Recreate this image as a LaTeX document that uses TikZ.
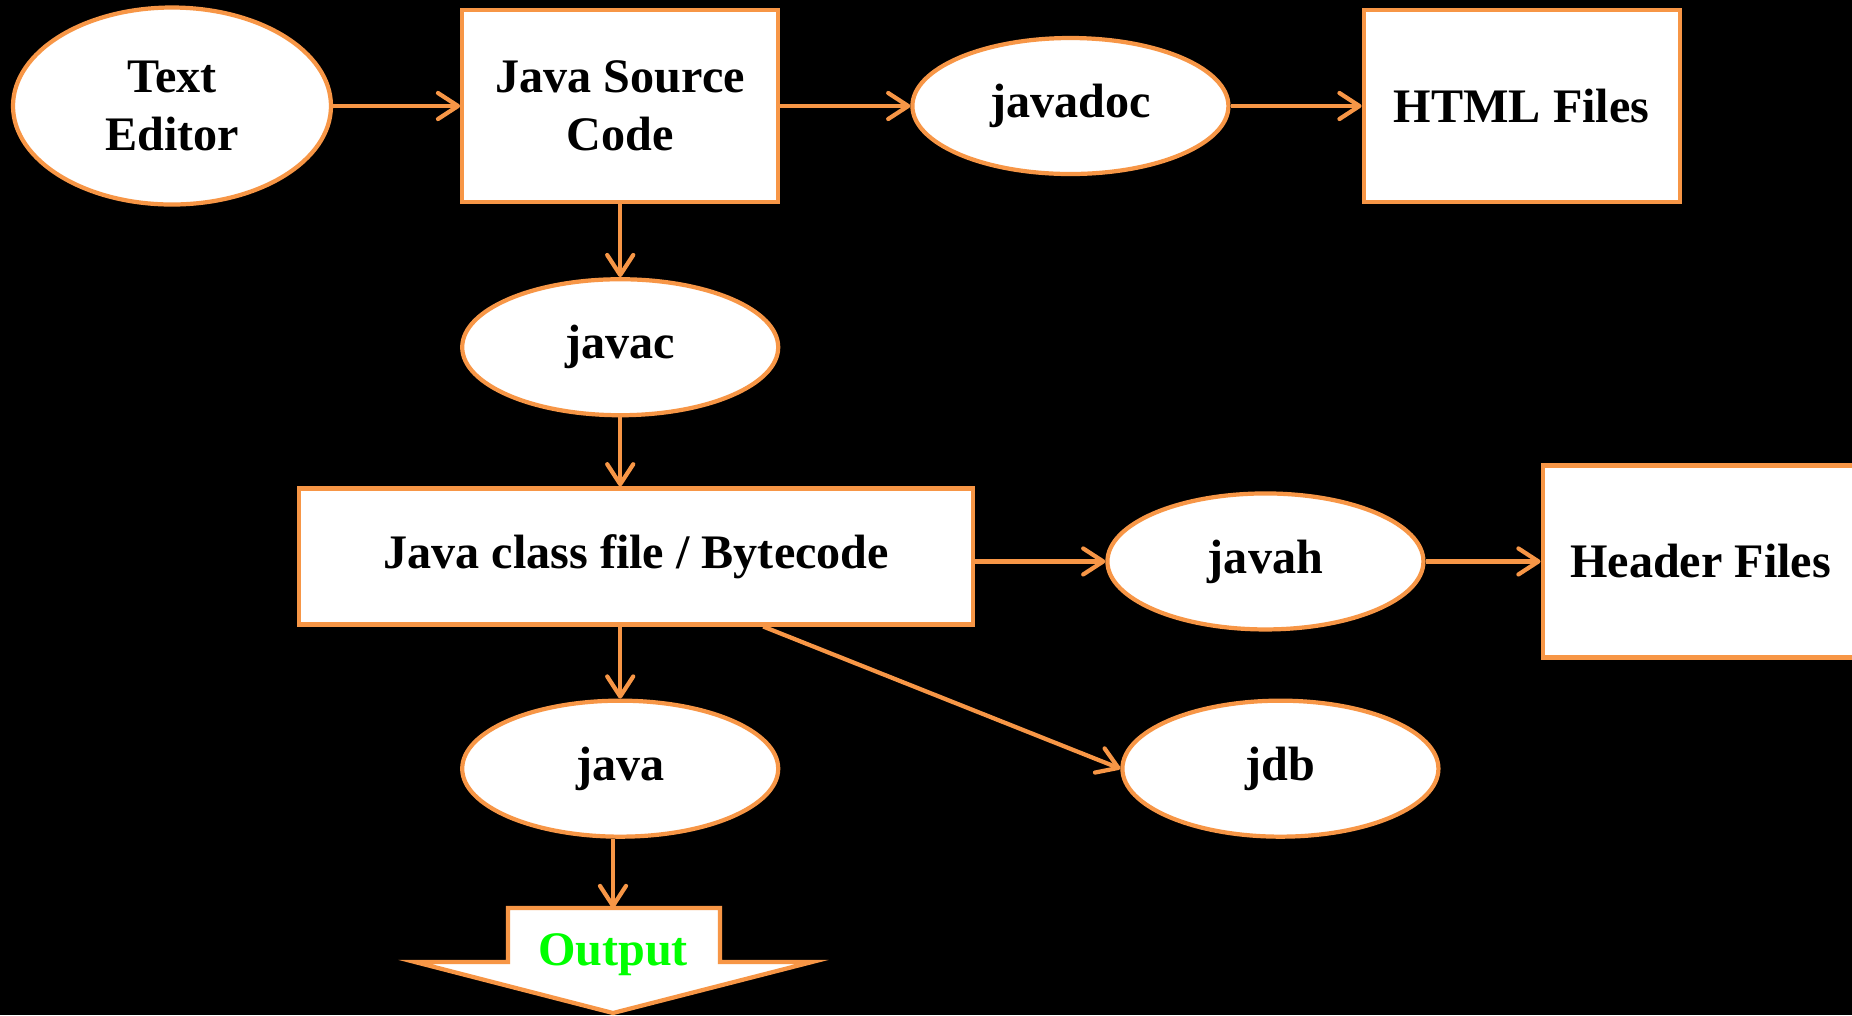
\documentclass[tikz,border=0pt]{standalone}
\usepackage{fontspec}
\setmainfont{Liberation Serif}
\usetikzlibrary{positioning, arrows.meta, shapes.geometric}
\definecolor{jorange}{HTML}{F79646}
\definecolor{outgreen}{HTML}{00FF00}

\begin{document}
\begin{tikzpicture}[
  toolb/.style={draw=jorange, fill=white, ellipse, line width=1.2pt, inner sep=0pt,
                minimum width=3.16cm, minimum height=1.36cm,
                font=\bfseries\fontsize{13.7}{16.5}\selectfont, align=center},
  fileb/.style={draw=jorange, fill=white, line width=1.2pt, inner sep=0pt,
                minimum width=3.16cm, minimum height=1.92cm,
                font=\bfseries\fontsize{13.7}{16.5}\selectfont, align=center},
  arr/.style={-{Straight Barb[length=2mm, width=2.6mm, round]}, draw=jorange, line width=1.2pt},
]
% background and page size
\fill[black] (0,0) rectangle (18.52,-10.15);
\useasboundingbox (0,0) rectangle (18.52,-10.15);

% Top row
\node[toolb, minimum width=3.18cm, minimum height=1.97cm] (editor) at (1.72,-1.06) {Text\\Editor};
\node[fileb, right=1.27cm of editor] (source) {Java Source\\Code};
\node[toolb, right=1.30cm of source] (javadoc) {javadoc};
\node[fileb, right=1.31cm of javadoc] (html) {HTML Files};

% Compiler and class file
\node[toolb, below=0.73cm of source] (javac) {javac};
\node[fileb, minimum width=6.74cm, minimum height=1.36cm,
      below=0.69cm of javac, xshift=0.16cm] (bytecode) {Java class file / Bytecode};
\node[toolb, right=1.30cm of bytecode, yshift=-0.05cm] (javah) {javah};
\node[fileb, right=1.15cm of javah] (header) {Header Files};

% Run and debug
\node[toolb, below=0.72cm of bytecode, xshift=-0.16cm] (java) {java};
\node[toolb, right=3.40cm of java] (jdb) {jdb};

% Output block arrow
\filldraw[draw=jorange, fill=white, line width=1.2pt]
  (5.08,-9.08) -- (7.20,-9.08) -- (7.20,-9.62) -- (8.12,-9.62) -- (6.13,-10.13)
  -- (4.15,-9.62) -- (5.08,-9.62) -- cycle;
\coordinate (outtop) at (6.13,-9.08);
\node[font=\bfseries\fontsize{13.7}{16.5}\selectfont, text=outgreen] (output) at (6.13,-9.55) {Output};

% Arrows
\draw[arr] (editor) -- (source);
\draw[arr] (source) -- (javadoc);
\draw[arr] (javadoc) -- (html);
\draw[arr] (source) -- (javac);
\draw[arr] (javac.south) -- (javac.south |- bytecode.north);
\draw[arr] (bytecode.east |- javah.west) -- (javah.west);
\draw[arr] (javah) -- (header);
\draw[arr] (bytecode.south -| java.north) -- (java.north);
\draw[arr] ([xshift=1.27cm]bytecode.south) -- (jdb.west);
\draw[arr] (java.south -| outtop) -- (outtop);
\end{tikzpicture}
\end{document}
